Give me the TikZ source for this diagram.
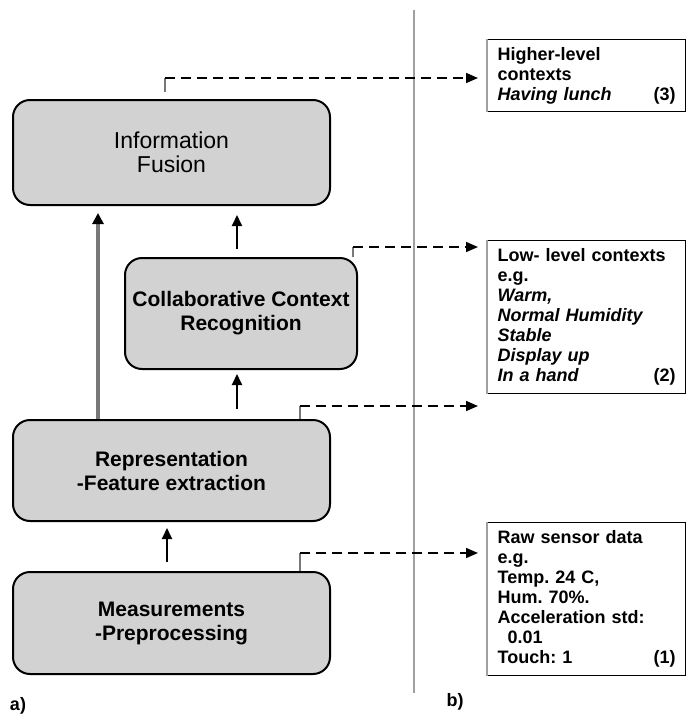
\documentclass[tikz,border=0pt]{standalone}
\usepackage{fontspec}
\setmainfont{Liberation Sans}
\usetikzlibrary{arrows.meta}
\definecolor{boxgray}{RGB}{210,210,210}
\definecolor{stubgray}{RGB}{120,120,120}
\definecolor{rulegray}{RGB}{160,160,160}
\frenchspacing
\begin{document}
\begin{tikzpicture}[x=1pt,y=-1pt,
  stage/.style={draw=black, line width=2pt, fill=boxgray, rounded corners=17pt,
    align=center, inner sep=0pt, font=\bfseries\fontsize{21}{24}\selectfont},
  infobox/.style={draw=black, line width=1.2pt, anchor=north west, align=left,
    text width=178pt, inner xsep=10pt, inner ysep=0pt,
    font=\bfseries\fontsize{18}{20}\selectfont},
  uparrow/.style={line width=2pt, -{Triangle[length=11pt,width=10pt]}},
  stub/.style={stubgray, line width=2.5pt},
  dashlink/.style={line width=1.6pt, dash pattern=on 10pt off 6pt,
    -{Triangle[length=12pt,width=10pt]}},
  tag/.style={font=\bfseries\fontsize{18}{20}\selectfont}]
\useasboundingbox (0,0) rectangle (687,718);

% processing stages (left column)
\node[stage, minimum width=317pt, minimum height=105pt,
  font=\fontsize{23}{24}\selectfont] (fusion) at (171.5,152.5) {Information\\Fusion};
\node[stage, minimum width=232pt, minimum height=111pt] (collab) at (241,313.5)
  {Collaborative Context\\Recognition};
\node[stage, minimum width=317pt, minimum height=101pt] (repr) at (171.5,470.5)
  {Representation\\-Feature extraction};
\node[stage, minimum width=317pt, minimum height=102pt] (meas) at (171.5,623)
  {Measurements\\-Preprocessing};

% upward data flow (yshift is on the page: positive = up)
\draw[uparrow, stubgray, line width=4pt, -{Triangle[length=11pt,width=11pt,color=black]}]
  (repr.north -| 98,0) -- ([yshift=-7pt]fusion.south -| 98,0);
\draw[uparrow] ([yshift=8pt]collab.north -| 237,0) -- ([yshift=-9pt]fusion.south -| 237,0);
\draw[uparrow] ([yshift=10pt]repr.north -| 237,0) -- ([yshift=-4pt]collab.south -| 237,0);
\draw[uparrow] ([yshift=9pt]meas.north -| 167,0) -- ([yshift=-6pt]repr.south -| 167,0);

% divider between the two panels
\coordinate (divtop) at (414,10);
\coordinate (divbot) at (414,693);
\draw[rulegray, line width=2.5pt] (divtop) -- (divbot);

% context descriptions (right column)
\node[infobox, minimum height=72pt] (ctx3) at (487,39)
  {Higher-level\\contexts\\\textit{Having lunch}\hfill(3)};
\node[infobox, minimum height=153pt] (ctx2) at (487,240)
  {Low- level contexts\\e.g.\\\textit{Warm,}\\\textit{Normal Humidity}\\\textit{Stable}\\\textit{Display up}\\\textit{In a hand}\hfill(2)};
\node[infobox, minimum height=153pt] (ctx1) at (487,522)
  {Raw sensor data\\e.g.\\Temp. 24 C,\\Hum. 70\%.\\Acceleration std:\\\hspace*{10pt}0.01\\Touch: 1\hfill(1)};
\foreach \b in {ctx3,ctx2,ctx1}
  \draw[rulegray, line width=1.6pt] (\b.north west) -- (\b.south west);

% links from stages to their outputs
\coordinate (s3a) at (165,92);   \coordinate (s3b) at (165,78);   \coordinate (e3) at (478,78);
\coordinate (s2b) at (353,247);  \coordinate (e2) at (478,247);
\coordinate (s1b) at (300,406);  \coordinate (e1) at (478,406);
\coordinate (s0b) at (300,553);  \coordinate (e0) at (478,553);

\draw[stub] (s3a) -- (s3b);
\draw[stub] (collab.north -| s2b) -- (s2b);
\draw[stub] (repr.north -| s1b) -- (s1b);
\draw[stub] (meas.north -| s0b) -- (s0b);
\draw[dashlink] (s3b) -- (e3);
\draw[dashlink] (s2b) -- (e2);
\draw[dashlink] (s1b) -- (e1);
\draw[dashlink] (s0b) -- (e0);

% panel labels
\node[tag] (labela) at (18,706) {a)};
\node[tag] (labelb) at (455,702) {b)};
\end{tikzpicture}
\end{document}
